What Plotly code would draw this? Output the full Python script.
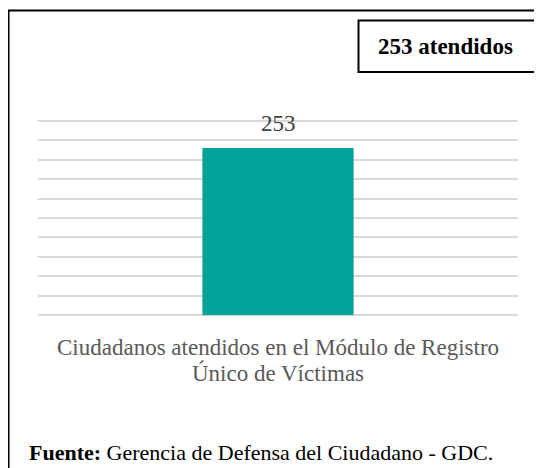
import plotly.graph_objects as go

# Data
category_lines = ["Ciudadanos atendidos en el Módulo de Registro", "Único de Víctimas"]
categories = [" ".join(category_lines)]
values = [253]
box_text = "253 atendidos"
source_text = "<b>Fuente:</b> Gerencia de Defensa del Ciudadano - GDC."

OFF = 8  # page body margin
W, H = 534, 460
L, R, T, B = 30, 24, 110, 153
PW, PH = W - L - R, H - T - B

def px(x):
    return (x - OFF - L) / PW

def py(y):
    return (H - B - (y - OFF)) / PH

SERIF = "Liberation Serif, Times New Roman, serif"

fig = go.Figure()
fig.add_trace(go.Bar(
    x=categories, y=values, width=0.315,
    marker=dict(color="#00A29A", line=dict(width=0)),
    hoverinfo="skip",
))

# data label above bar
for c, v in zip(categories, values):
    fig.add_annotation(x=c, y=v, text=str(v), showarrow=False,
                       yanchor="middle", yshift=25,
                       font=dict(family=SERIF, size=23, color="#404040"))
    # category label (two lines)
    for i, line in enumerate(category_lines):
        fig.add_annotation(x=c, yref="paper", y=py(347 + 26 * i), text=line,
                           showarrow=False, yanchor="middle",
                           font=dict(family=SERIF, size=23, color="#595959"))

fig.update_layout(
    width=W, height=H,
    margin=dict(l=L, r=R, t=T, b=B),
    paper_bgcolor="white", plot_bgcolor="white",
    showlegend=False,
    font=dict(family=SERIF),
    xaxis=dict(showgrid=False, showline=False, ticks="", showticklabels=False),
    yaxis=dict(range=[0, 298.5], tick0=0, dtick=29.4, showticklabels=False,
               gridcolor="#D9D9D9", gridwidth=1.5,
               zeroline=True, zerolinecolor="#D9D9D9", zerolinewidth=1.5,
               showline=False),
)

# outer border
fig.add_shape(type="rect", xref="paper", yref="paper",
              x0=px(8.5), x1=px(560), y0=py(10.5), y1=py(490),
              line=dict(color="black", width=2), layer="below")
# top-right box
fig.add_shape(type="rect", xref="paper", yref="paper",
              x0=px(358.5), x1=px(541), y0=py(20.5), y1=py(72),
              line=dict(color="black", width=2))
fig.add_annotation(xref="paper", yref="paper", x=px(445), y=py(47),
                   text="<b>" + box_text + "</b>", showarrow=False,
                   xanchor="center", yanchor="middle",
                   font=dict(family=SERIF, size=23, color="black"))
# source
fig.add_annotation(xref="paper", yref="paper", x=px(27), y=py(452),
                   text=source_text, showarrow=False,
                   xanchor="left", yanchor="middle",
                   font=dict(family=SERIF, size=22, color="black"))

fig.write_html("out.html")
